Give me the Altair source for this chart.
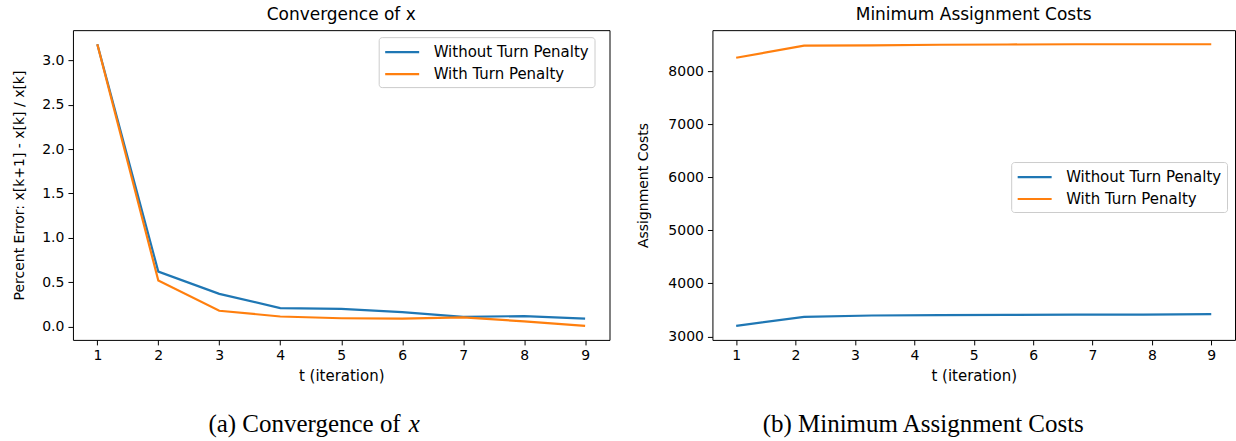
import altair as alt
import pandas as pd

# ---------------- data ----------------
series_names = ["Without Turn Penalty", "With Turn Penalty"]
series_colors = ["#1f77b4", "#ff7f0e"]

t_conv = [1, 2, 3, 4, 5, 6, 7, 8, 9]
err_without = [3.18, 0.62, 0.37, 0.21, 0.20, 0.165, 0.11, 0.12, 0.09]
err_with = [3.18, 0.52, 0.18, 0.115, 0.095, 0.09, 0.105, 0.06, 0.01]

t_cost = [1.0, 2.143, 3.286, 4.429, 5.571, 6.714, 7.857, 9.0]
cost_without = [3200, 3370, 3395, 3400, 3405, 3410, 3410, 3420]
cost_with = [8260, 8490, 8495, 8505, 8510, 8515, 8515, 8515]

x_ticks = [1, 2, 3, 4, 5, 6, 7, 8, 9]
y_ticks_conv = [0.0, 0.5, 1.0, 1.5, 2.0, 2.5, 3.0]
y_ticks_cost = [3000, 4000, 5000, 6000, 7000, 8000]

title_a = "Convergence of x"
title_b = "Minimum Assignment Costs"
ytitle_a = "Percent Error: x[k+1] - x[k] / x[k]"
ytitle_b = "Assignment Costs"
xtitle = "t (iteration)"
caption_a_text = "(a) Convergence of"
caption_a_var = "x"
caption_b_text = "(b) Minimum Assignment Costs"

# ---------------- tables ----------------
conv_df = pd.DataFrame({
    "t": t_conv + t_conv,
    "value": err_without + err_with,
    "series": [series_names[0]] * len(t_conv) + [series_names[1]] * len(t_conv),
})
cost_df = pd.DataFrame({
    "t": t_cost + t_cost,
    "value": cost_without + cost_with,
    "series": [series_names[0]] * len(t_cost) + [series_names[1]] * len(t_cost),
})

FONT = "DejaVu Sans"
W_A, W_B, H = 537, 523, 310

def color_enc(lx, ly):
    return alt.Color(
        "series:N",
        scale=alt.Scale(domain=series_names, range=series_colors),
        sort=series_names,
        legend=alt.Legend(
            title=None, orient="none", legendX=lx, legendY=ly,
            symbolType="M-1,0H3", symbolSize=289, symbolStrokeWidth=2.2,
            labelOffset=30, labelFont=FONT, labelFontSize=15, labelColor="#000",
            padding=5, rowPadding=4, strokeColor="#cccccc", cornerRadius=3,
            fillColor="rgba(255,255,255,0.8)",
        ),
    )

def x_enc():
    return alt.X(
        "t:Q",
        scale=alt.Scale(domain=[0.6, 9.4], nice=False, zero=False),
        axis=alt.Axis(values=x_ticks, format="d", title=xtitle, titlePadding=6,
                      titleFontSize=15),
    )

lines_a = alt.Chart(conv_df).mark_line(strokeWidth=2.2).encode(
    x=x_enc(),
    y=alt.Y("value:Q",
            scale=alt.Scale(domain=[-0.1485, 3.3385], nice=False, zero=False),
            axis=alt.Axis(values=y_ticks_conv, format=".1f", title=ytitle_a,
                          titleFontSize=14, minExtent=31, maxExtent=31,
                          titlePadding=15)),
    color=color_enc(306, 7),
    order="t:Q",
)

cap_df = pd.DataFrame({"a1": [caption_a_text], "a2": [caption_a_var], "b": [caption_b_text]})

cap_a1 = alt.Chart(cap_df).mark_text(
    font="Liberation Serif", fontSize=25, align="right", baseline="middle", color="#000"
).encode(x=alt.value(328), y=alt.value(394), text="a1:N")
cap_a2 = alt.Chart(cap_df).mark_text(
    font="Liberation Serif", fontSize=25, fontStyle="italic", align="left",
    baseline="middle", color="#000"
).encode(x=alt.value(336), y=alt.value(394), text="a2:N")

panel_a = alt.layer(lines_a, cap_a1, cap_a2).properties(
    width=W_A, height=H,
    title=alt.TitleParams(title_a, fontSize=17, fontWeight="normal", font=FONT,
                          color="#000", anchor="middle", frame="group", offset=6),
)

lines_b = alt.Chart(cost_df).mark_line(strokeWidth=2.2).encode(
    x=x_enc(),
    y=alt.Y("value:Q",
            scale=alt.Scale(domain=[2934, 8781], nice=False, zero=False),
            axis=alt.Axis(values=y_ticks_cost, format="d", title=ytitle_b,
                          titleFontSize=14, minExtent=45, maxExtent=45,
                          titlePadding=17)),
    color=color_enc(299, 132),
    order="t:Q",
)

cap_b = alt.Chart(cap_df).mark_text(
    font="Liberation Serif", fontSize=25, align="center", baseline="middle", color="#000"
).encode(x=alt.value(211), y=alt.value(394), text="b:N")

panel_b = alt.layer(lines_b, cap_b).properties(
    width=W_B, height=H,
    title=alt.TitleParams(title_b, fontSize=17, fontWeight="normal", font=FONT,
                          color="#000", anchor="middle", frame="group", offset=6),
)

chart = alt.hconcat(panel_a, panel_b, spacing=25).resolve_legend(
    color="independent"
).resolve_scale(color="independent").properties(
    padding={"left": 12, "top": 5, "right": 0, "bottom": 0},
    background="white",
).configure_view(
    stroke="#000", strokeWidth=1
).configure_axis(
    grid=False, domain=False, tickColor="#000", tickSize=5, labelPadding=4,
    labelFont=FONT, labelFontSize=14, labelColor="#000",
    titleFont=FONT, titleFontWeight="normal", titleColor="#000",
)

chart.save("out.html", embed_options={"renderer": "svg", "actions": False})
